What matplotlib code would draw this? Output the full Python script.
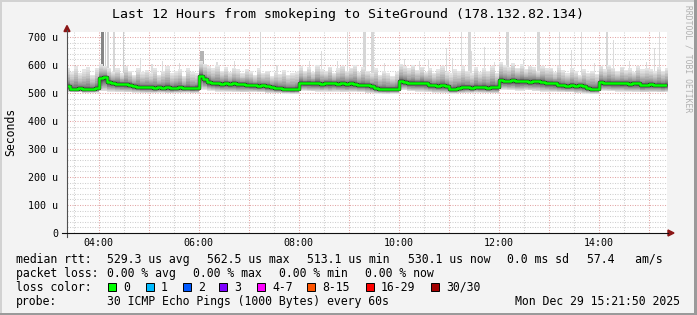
import numpy as np
import matplotlib
matplotlib.use("Agg")
import matplotlib.pyplot as plt
from matplotlib.patches import Rectangle, Polygon
from matplotlib.lines import Line2D

# ---------------- data ----------------
title = "Last 12 Hours from smokeping to SiteGround (178.132.82.134)"
series_start_h = 3 + 20 / 60          # first sample 03:20
view_start_h = 3 + 21.83 / 60         # 03:21:50
step_min = 5
median_rtt_us = [
    526, 516, 515, 517, 513, 515, 514, 517,
    552, 556, 540, 537, 533, 532, 531, 530, 526, 522, 521, 520,
    520, 518, 521, 519, 520, 517, 519, 520, 518, 519, 517, 519,
    562, 550, 540, 535, 534, 533, 535, 532, 534, 531, 533, 530,
    528, 527, 526, 527, 524, 522, 518, 517, 515, 514, 513, 515,
    537, 535, 536, 534, 535, 533, 536, 534, 535, 533, 534, 532,
    534, 533, 530, 529, 528, 524, 518, 516, 515, 514, 516, 515,
    544, 540, 537, 536, 535, 536, 535, 528, 527, 526, 527, 525,
    514, 513, 518, 520, 521, 519, 522, 520, 521, 519, 522, 521,
    546, 544, 543, 545, 542, 543, 544, 541, 543, 542, 540, 536,
    535, 534, 530, 527, 526, 528, 525, 527, 524, 518, 515, 516,
    538, 536, 537, 535, 536, 534, 535, 533, 535, 534, 529, 530,
    531, 529, 530, 528, 530, 530,
]
smoke_hi_us = [
    588, 575, 596, 570, 584, 592, 566, 590,
    605, 598, 590, 575, 588, 570, 596, 580, 565, 590, 574, 583,
    572, 590, 566, 580, 595, 570, 578, 586, 562, 588, 575, 570,
    615, 605, 596, 588, 600, 580, 592, 575, 590, 584, 570, 586,
    578, 565, 588, 572, 580, 560, 576, 568, 582, 565, 572, 575,
    596, 580, 592, 575, 600, 585, 578, 594, 570, 588, 598, 580,
    590, 600, 575, 594, 580, 572, 588, 566, 580, 572, 560, 575,
    605, 596, 588, 600, 582, 594, 576, 590, 572, 585, 596, 575,
    570, 585, 578, 595, 580, 570, 592, 575, 588, 580, 598, 572,
    612, 600, 594, 608, 590, 602, 585, 598, 592, 580, 596, 588,
    590, 575, 596, 582, 570, 588, 578, 565, 584, 572, 580, 568,
    598, 585, 600, 590, 578, 594, 582, 588, 575, 596, 584, 590,
    586, 578, 594, 580, 590, 585,
]
smoke_lo_us = [
    503, 503, 502, 502, 500, 500, 501, 501,
    506, 506, 504, 504, 503, 503, 502, 502, 501, 501, 500, 500,
    500, 500, 501, 501, 499, 499, 500, 500, 501, 501, 500, 500,
    512, 512, 508, 508, 505, 505, 504, 504, 503, 503, 502, 502,
    503, 503, 502, 502, 500, 500, 499, 499, 498, 498, 497, 497,
    508, 508, 506, 506, 505, 505, 504, 504, 505, 505, 503, 503,
    504, 504, 503, 503, 500, 500, 498, 498, 497, 497, 498, 498,
    510, 510, 506, 506, 505, 505, 503, 503, 501, 501, 500, 500,
    498, 498, 499, 499, 500, 500, 501, 501, 500, 500, 499, 499,
    512, 512, 510, 510, 508, 508, 509, 509, 507, 507, 505, 505,
    504, 504, 503, 503, 502, 502, 500, 500, 498, 498, 497, 497,
    508, 508, 506, 506, 505, 505, 504, 504, 503, 503, 502, 502,
    503, 503, 502, 502, 503, 503,
]
spike_time_h = [4.04, 4.12, 4.17, 4.28, 4.48, 4.82, 5.05, 5.26, 5.60, 6.02,
                6.35, 6.70, 7.22, 7.55, 8.20, 8.44, 8.76, 8.96, 9.28, 9.44,
                9.70, 10.10, 10.40, 10.58, 10.94, 11.06, 11.24, 11.38, 11.44, 11.70,
                11.90, 12.14, 12.48, 12.76, 13.20, 13.44, 13.64, 13.90, 14.14, 14.28,
                14.60, 14.94, 15.10, 15.20]
spike_top_us = [760, 760, 760, 760, 760, 625, 605, 614, 607, 650,
                612, 614, 760, 600, 615, 650, 614, 760, 760, 760,
                608, 620, 615, 620, 661, 625, 760, 760, 650, 664,
                612, 760, 620, 760, 760, 653, 760, 606, 760, 689,
                615, 610, 660, 760]
spike_dur_min = [4, 1.5, 2, 3, 1.5, 2, 1.5, 1.5, 1.5, 5,
                 1.5, 1.5, 2, 1.5, 1.5, 1.5, 1.5, 1.5, 4, 4,
                 1.5, 1.5, 1.5, 1.5, 1.5, 2, 1.5, 4, 1.5, 1.5,
                 1.5, 4, 1.5, 4, 1.5, 1.5, 1.5, 1.5, 3, 1.5,
                 1.5, 1.5, 1.5, 1.5]
spike_gray = [0.52, 0.80, 0.82, 0.84, 0.80, 0.86, 0.87, 0.86, 0.86, 0.70,
              0.87, 0.86, 0.84, 0.87, 0.87, 0.86, 0.86, 0.86, 0.84, 0.84,
              0.87, 0.86, 0.87, 0.86, 0.86, 0.86, 0.86, 0.84, 0.86, 0.86,
              0.87, 0.84, 0.86, 0.84, 0.86, 0.86, 0.86, 0.87, 0.84, 0.86,
              0.87, 0.86, 0.86, 0.86]

ytick_values = [0, 100, 200, 300, 400, 500, 600, 700]
ytick_labels = ["0", "100 u", "200 u", "300 u", "400 u", "500 u", "600 u", "700 u"]
xtick_hours = [4, 6, 8, 10, 12, 14]
xtick_labels = ["04:00", "06:00", "08:00", "10:00", "12:00", "14:00"]

rtt_values = ["529.3", "562.5", "513.1", "530.1", "0.0", "57.4"]
rtt_units = ["us avg", "us max", "us min", "us now", "ms sd", "  am/s"]
loss_values = ["0.00", "0.00", "0.00", "0.00"]
loss_units = ["% avg", "% max", "% min", "% now"]
loss_labels = ["0", "1", "2", "3", "4-7", "8-15", "16-29", "30/30"]
loss_colors = ["#00ff00", "#00bbff", "#0059ff", "#7e00ff", "#ff00ff", "#ff5500", "#ff0000", "#a10000"]
probe_text = "30 ICMP Echo Pings (1000 Bytes) every 60s"
stamp_text = "Mon Dec 29 15:21:50 2025"
side_text = "RRDTOOL / TOBI OETIKER"

# ---------------- figure ----------------
W, H = 697, 315
MONO = "DejaVu Sans Mono"
fig = plt.figure(figsize=(W / 100, H / 100), dpi=100, facecolor="#f3f3f3")


def fx(x):
    return x / W


def fy(y):
    return 1 - y / H


ax = fig.add_axes([fx(67), fy(233), 600 / W, 201 / H])
ax.set_facecolor("white")
ymax = 201 / 0.28
ax.set_xlim(view_start_h, view_start_h + 12)
ax.set_ylim(0, ymax)
for s in ax.spines.values():
    s.set_visible(False)

# grid
minor_c, major_c = "#cfcfcf", "#e3a5a5"
for v in np.arange(20, ymax, 20):
    major = int(round(v)) % 100 == 0
    ax.axhline(v, color=major_c if major else minor_c, lw=0.75, ls=(0, (1, 1.4)), zorder=0.5)
for hh in np.arange(3.5, 15.6, 0.5):
    major = abs(hh - round(hh)) < 1e-6
    ax.axvline(hh, color=major_c if major else minor_c, lw=0.75, ls=(0, (1, 1.4)), zorder=0.5)

# series
med = np.array(median_rtt_us, float)
t = series_start_h + np.arange(len(med)) * step_min / 60
hi = np.array(smoke_hi_us, float)
lo = np.array(smoke_lo_us, float)

# spikes (extreme pings)
for st, top, dur, g in zip(spike_time_h, spike_top_us, spike_dur_min, spike_gray):
    i = min(int((st - series_start_h) * 60 // step_min), len(med) - 1)
    base = med[i] + 15
    ax.bar(st, top - base, bottom=base, width=dur / 60, color=(g, g, g), lw=0, align="edge", zorder=1)

# smoke layers
N = 14
for k in range(N, 0, -1):
    f = k / N
    up = med + (hi - med) * f ** 1.5
    dn = med - (med - lo) * f ** 0.7
    g = 0.20 + 0.70 * f ** 0.7
    ax.fill_between(t, dn, up, step="post", color=(g, g, g), lw=0, zorder=2)

# median
ax.step(t, med, where="post", color="#262626", lw=2.5, zorder=3)
ax.step(t, med, where="post", color="#00ff00", lw=1.8, zorder=4)

ax.set_yticks(ytick_values, ytick_labels)
ax.set_xticks(xtick_hours, xtick_labels)
ax.tick_params(axis="both", length=0, labelsize=7.2, colors="black")
ax.tick_params(axis="y", pad=6.4)
ax.tick_params(axis="x", pad=3.4)
for lab in ax.get_xticklabels() + ax.get_yticklabels():
    lab.set_fontfamily(MONO)
ax.set_ylabel("Seconds", fontsize=8.3, fontfamily=MONO, va="center", ha="center")
ax.yaxis.set_label_coords((11 - 67) / 600, (233 - 132) / 201)

# axes lines and arrows
fig.add_artist(Line2D([fx(67), fx(67)], [fy(30), fy(237)], color="#505050", lw=0.8))
fig.add_artist(Line2D([fx(62), fx(668)], [fy(233), fy(233)], color="#101010", lw=0.8))
arrow_c = "#8b1515"
fig.add_artist(Polygon([[fx(64), fy(31.5)], [fx(70), fy(31.5)], [fx(67), fy(25.5)]], closed=True,
                       color=arrow_c, transform=fig.transFigure))
fig.add_artist(Polygon([[fx(668), fy(230)], [fx(668), fy(236)], [fx(674), fy(233)]], closed=True,
                       color=arrow_c, transform=fig.transFigure))

# title and side text
fig.text(fx(348), fy(18), title, ha="center", va="baseline", fontsize=9.5, fontfamily=MONO)
fig.text(fx(688), fy(5), side_text, ha="center", va="top", rotation=270, fontsize=5.8,
         fontfamily=MONO, color="#b0b0b0")

# legend
fs = 8.3
b1, b2, b3, b4 = 262.7, 276.7, 290.7, 304.7
fig.text(fx(16), fy(b1), "median rtt:", fontsize=fs, fontfamily=MONO, va="baseline")
rtt_x = [107, 207, 307, 408, 507, 587]
for x, v, u in zip(rtt_x, rtt_values, rtt_units):
    fig.text(fx(x), fy(b1), f"{v} {u}", fontsize=fs, fontfamily=MONO, va="baseline")
fig.text(fx(16), fy(b2), "packet loss:", fontsize=fs, fontfamily=MONO, va="baseline")
loss_x = [107, 193, 279, 365]
for x, v, u in zip(loss_x, loss_values, loss_units):
    fig.text(fx(x), fy(b2), f"{v} {u}", fontsize=fs, fontfamily=MONO, va="baseline")
fig.text(fx(16), fy(b3), "loss color:", fontsize=fs, fontfamily=MONO, va="baseline")
box_x = [108, 146, 183, 219, 257, 307, 366, 431]
for x, lab, c in zip(box_x, loss_labels, loss_colors):
    fig.add_artist(Rectangle((fx(x), fy(291)), 8 / W, 8 / H, facecolor=c, edgecolor="black",
                             lw=0.7, transform=fig.transFigure))
    fig.text(fx(x + 15), fy(b3), lab, fontsize=fs, fontfamily=MONO, va="baseline")
fig.text(fx(16), fy(b4), "probe:", fontsize=fs, fontfamily=MONO, va="baseline")
fig.text(fx(107), fy(b4), probe_text, fontsize=fs, fontfamily=MONO, va="baseline")
fig.text(fx(680), fy(b4), stamp_text, fontsize=fs, fontfamily=MONO, va="baseline", ha="right")

# 3D frame
fig.add_artist(Rectangle((0, fy(2)), 1, 2 / H, color="#d2d2d2", transform=fig.transFigure, lw=0))
fig.add_artist(Rectangle((0, 0), 2 / W, 1, color="#d2d2d2", transform=fig.transFigure, lw=0))
fig.add_artist(Rectangle((0, 0), 1, 2 / H, color="#9a9a9a", transform=fig.transFigure, lw=0))
fig.add_artist(Rectangle((fx(694), 0), 3 / W, 1, color="#9a9a9a", transform=fig.transFigure, lw=0))

fig.savefig("out.png", dpi=100, facecolor=fig.get_facecolor())
